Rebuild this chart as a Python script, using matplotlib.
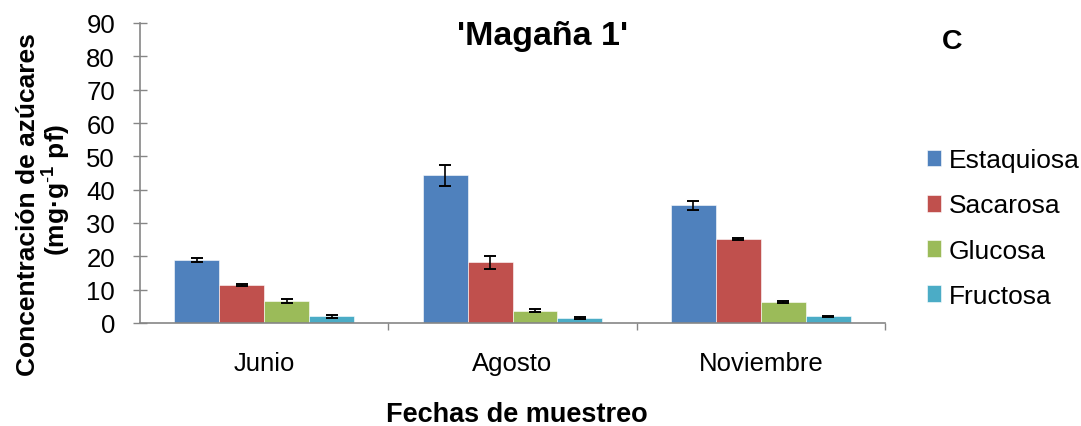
import matplotlib
matplotlib.use("Agg")
import matplotlib.pyplot as plt
import numpy as np

plt.rcParams['font.family'] = ['Liberation Sans', 'DejaVu Sans']
plt.rcParams['mathtext.fontset'] = 'custom'
plt.rcParams['mathtext.rm'] = 'Liberation Sans'
plt.rcParams['mathtext.bf'] = 'Liberation Sans:bold'

categories = ["Junio", "Agosto", "Noviembre"]
series = ["Estaquiosa", "Sacarosa", "Glucosa", "Fructosa"]
estaquiosa = [19.0, 44.3, 35.3]
sacarosa = [11.4, 18.2, 25.2]
glucosa = [6.6, 3.7, 6.3]
fructosa = [2.0, 1.4, 2.0]
err_estaquiosa = [0.6, 3.2, 1.3]
err_sacarosa = [0.2, 2.0, 0.2]
err_glucosa = [0.5, 0.5, 0.3]
err_fructosa = [0.4, 0.3, 0.2]
colors = ["#4F81BD", "#C0504D", "#9BBB59", "#4BACC6"]

values = [estaquiosa, sacarosa, glucosa, fructosa]
errors = [err_estaquiosa, err_sacarosa, err_glucosa, err_fructosa]

W, H = 1081, 427
fig = plt.figure(figsize=(W / 100, H / 100), dpi=100)
ax = fig.add_axes([140 / W, 103 / H, 745 / W, 300 / H])

x = np.arange(len(categories))
w = 0.181
for i, (vals, errs, c, name) in enumerate(zip(values, errors, colors, series)):
    off = (i - 1.5) * w
    ax.bar(x + off, vals, width=w, color=c, edgecolor='white', linewidth=0.4,
           label=name, zorder=2)
    ax.errorbar(x + off, vals, yerr=errs, fmt='none', ecolor='black', elinewidth=1.2,
                capsize=4.3, capthick=1.4, zorder=3)

ax.set_xlim(-0.5, 2.5)
ax.set_ylim(0, 90)
ax.set_yticks(np.arange(0, 91, 10))
ax.tick_params(axis='y', direction='inout', length=10, width=1, color='#868686',
               labelsize=18.5, pad=13)
ax.set_xticks([0.5, 1.5, 2.5], minor=True)
ax.set_xticks(x)
ax.set_xticklabels(categories)
ax.tick_params(axis='x', which='major', length=0, labelsize=18.5, pad=20)
ax.tick_params(axis='x', which='minor', direction='out', length=5, width=1, color='#868686')
for s in ['top', 'right']:
    ax.spines[s].set_visible(False)
for s in ['left', 'bottom']:
    ax.spines[s].set_color('#868686')
    ax.spines[s].set_linewidth(1.2)

fig.text(517 / W, 1 - 415 / H, "Fechas de muestreo", ha='center', va='center',
         fontsize=19.5, fontweight='bold')
fig.text(28 / W, 1 - 205 / H, "Concentración de azúcares",
         rotation=90, ha='center', va='center', fontsize=19, fontweight='bold')
fig.text(57 / W, 1 - 190 / H, "(mg·g$\\mathbf{^{\\text{-}1}}$ pf)",
         rotation=90, ha='center', va='center', fontsize=19, fontweight='bold')
fig.text(543 / W, 1 - 36 / H, "'Magaña 1'", ha='center', va='center',
         fontsize=24.5, fontweight='bold')
fig.text(952 / W, 1 - 42 / H, "C", ha='center', va='center',
         fontsize=20.5, fontweight='bold')

handles, labels = ax.get_legend_handles_labels()
fig.legend(handles, labels, loc='center left', bbox_to_anchor=(927 / W, 1 - 229 / H),
           frameon=False, fontsize=19, handlelength=0.53, handleheight=0.6,
           handletextpad=0.3, labelspacing=0.8, borderaxespad=0, borderpad=0)

fig.savefig("out.png", dpi=100)
